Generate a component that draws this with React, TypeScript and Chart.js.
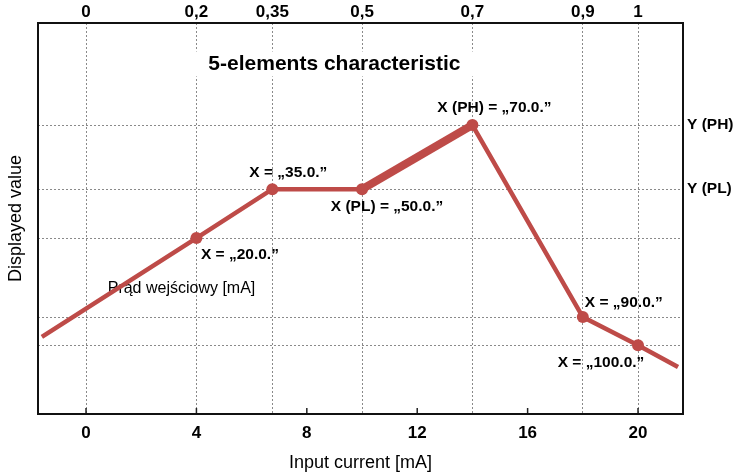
import React, { useEffect, useRef } from 'react';
import { Chart, registerables } from 'chart.js';

Chart.register(...registerables);

// ---- data ----
const xValues = [-1.6, 4, 6.75, 10, 14, 18, 20, 21.45];
const yValues = [19.7, 45, 57.5, 57.5, 73.9, 24.8, 17.6, 12];
const bottomTicks = [0, 4, 8, 12, 16, 20];
const topTickValues = [0, 4, 6.75, 10, 14, 18, 20];
const topTickLabels = ['0', '0,2', '0,35', '0,5', '0,7', '0,9', '1'];
const gridYValues = [73.9, 57.5, 45, 24.8, 17.6];
const rightTickValues = [73.9, 57.5];
const rightTickLabels = ['Y (PH)', 'Y (PL)'];
const pointLabels = ['', 'X = „20.0.”', 'X = „35.0.”', 'X (PL) = „50.0.”', 'X (PH) = „70.0.”', 'X = „90.0.”', 'X = „100.0.”', ''];
const chartTitle = '5-elements characteristic';
const innerNote = 'Prąd wejściowy [mA]';
const xTitle = 'Input current [mA]';
const yTitle = 'Displayed value';

// ---- styles / layout ----
const FONT = "'Liberation Sans', Arial, Helvetica, sans-serif";
const RED = '#be4b48';
const GRID = '#8a8a8a';
const X_MIN = -1.74;
const X_MAX = 21.63;
const labelOffsets: Array<[number, number]> = [
  [0, 0], [43.5, 17], [16, -16], [25, 17.5], [22, -17], [41, -14], [-37, 18], [0, 0],
];
const titlePos = { x: 9.0, y: 89.4 };
const notePos = { x: 3.46, y: 32.2 };

const overlayPlugin = {
  id: 'overlay',
  beforeDatasetsDraw(chart: any) {
    const { ctx, chartArea, scales } = chart;
    const xs = scales.x;
    const ys = scales.y;
    ctx.save();
    // title with white box
    ctx.font = `bold 21px ${FONT}`;
    const tw = ctx.measureText(chartTitle).width;
    const tx = xs.getPixelForValue(titlePos.x);
    const ty = ys.getPixelForValue(titlePos.y);
    ctx.fillStyle = '#fff';
    ctx.fillRect(tx - tw / 2 - 15, ty - 13, tw + 30, 25);
    ctx.fillStyle = '#000';
    ctx.textAlign = 'center';
    ctx.textBaseline = 'middle';
    ctx.fillText(chartTitle, tx, ty);
    // inner note
    ctx.font = `16px ${FONT}`;
    ctx.fillText(innerNote, xs.getPixelForValue(notePos.x), ys.getPixelForValue(notePos.y));
    // point labels
    ctx.font = `bold 15.5px ${FONT}`;
    pointLabels.forEach((t, i) => {
      if (!t) return;
      const px = xs.getPixelForValue(xValues[i]) + labelOffsets[i][0];
      const py = ys.getPixelForValue(yValues[i]) + labelOffsets[i][1];
      ctx.fillText(t, px, py);
    });
    // inward tick marks on bottom axis
    ctx.strokeStyle = '#222';
    ctx.lineWidth = 1.5;
    bottomTicks.forEach((v) => {
      const px = xs.getPixelForValue(v);
      ctx.beginPath();
      ctx.moveTo(px, chartArea.bottom);
      ctx.lineTo(px, chartArea.bottom - 6);
      ctx.stroke();
    });
    ctx.restore();
  },
  afterDatasetsDraw(chart: any) {
    const { ctx, chartArea } = chart;
    ctx.save();
    ctx.strokeStyle = '#111';
    ctx.lineWidth = 2;
    ctx.strokeRect(chartArea.left, chartArea.top, chartArea.right - chartArea.left, chartArea.bottom - chartArea.top);
    ctx.restore();
  },
};

export default function App() {
  const ref = useRef<HTMLCanvasElement | null>(null);
  useEffect(() => {
    if (!ref.current) return;
    const chart = new Chart(ref.current, {
      type: 'line',
      data: {
        datasets: [
          {
            data: xValues.map((x, i) => ({ x, y: yValues[i] })),
            borderColor: RED,
            backgroundColor: RED,
            borderWidth: 4.5,
            pointRadius: (c: any) => (c.dataIndex === 0 || c.dataIndex === xValues.length - 1 ? 0 : 6),
            pointBackgroundColor: RED,
            pointBorderWidth: 0,
            tension: 0,
            segment: {
              borderWidth: (c: any) => (c.p0DataIndex === 3 ? 8 : 4.5),
            },
          } as any,
        ],
      },
      options: {
        responsive: false,
        animation: false,
        devicePixelRatio: 1,
        layout: { padding: 0 },
        plugins: { legend: { display: false }, tooltip: { enabled: false }, title: { display: false } },
        scales: {
          x: {
            type: 'linear',
            position: 'bottom',
            min: X_MIN,
            max: X_MAX,
            afterBuildTicks: (s: any) => { s.ticks = bottomTicks.map((v) => ({ value: v })); },
            afterFit: (s: any) => { s.height = 61; },
            grid: { display: false, drawTicks: false },
            border: { display: false },
            ticks: { color: '#000', font: { family: FONT, size: 17, weight: 'bold' }, padding: 9, autoSkip: false, maxRotation: 0 },
            title: { display: true, text: xTitle, color: '#000', font: { family: FONT, size: 18 }, padding: { top: 0, bottom: 1 } },
          },
          x2: {
            type: 'linear',
            position: 'top',
            min: X_MIN,
            max: X_MAX,
            afterBuildTicks: (s: any) => { s.ticks = topTickValues.map((v) => ({ value: v })); },
            afterFit: (s: any) => { s.height = 23; },
            grid: { display: true, drawOnChartArea: true, drawTicks: false, color: GRID, lineWidth: 1 },
            border: { display: false, dash: [2, 2] },
            ticks: {
              color: '#000',
              font: { family: FONT, size: 17, weight: 'bold' },
              padding: 0,
              autoSkip: false,
              maxRotation: 0,
              callback: (_v: any, i: number) => topTickLabels[i],
            },
          },
          y: {
            type: 'linear',
            position: 'left',
            min: 0,
            max: 100,
            afterBuildTicks: (s: any) => { s.ticks = gridYValues.map((v) => ({ value: v })); },
            afterFit: (s: any) => { s.width = 38; },
            grid: { display: true, drawOnChartArea: true, drawTicks: false, color: GRID, lineWidth: 1 },
            border: { display: false, dash: [2, 2] },
            ticks: { display: false },
            title: { display: true, text: yTitle, color: '#000', font: { family: FONT, size: 18 }, padding: { top: 5, bottom: 0 } },
          },
          y2: {
            type: 'linear',
            position: 'right',
            min: 0,
            max: 100,
            afterBuildTicks: (s: any) => { s.ticks = rightTickValues.map((v) => ({ value: v })); },
            afterFit: (s: any) => { s.width = 52; },
            grid: { display: false, drawTicks: false },
            border: { display: false },
            ticks: {
              color: '#000',
              font: { family: FONT, size: 15.5, weight: 'bold' },
              padding: 4,
              autoSkip: false,
              callback: (_v: any, i: number) => rightTickLabels[i],
            },
          },
        },
      } as any,
      plugins: [overlayPlugin],
    });
    return () => chart.destroy();
  }, []);
  return (
    <div style={{ position: 'absolute', left: 0, top: 0, width: 735, height: 475, background: '#fff' }}>
      <canvas ref={ref} width={735} height={475} style={{ display: 'block', width: 735, height: 475 }} />
    </div>
  );
}
